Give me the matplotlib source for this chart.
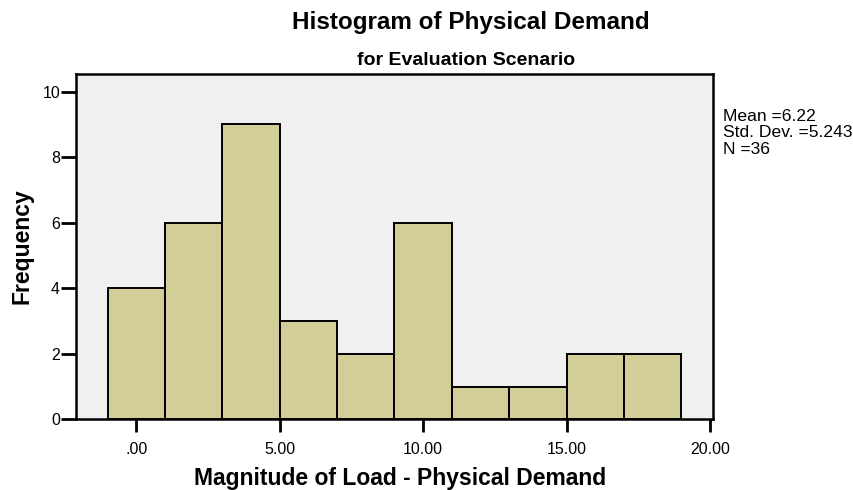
import matplotlib
matplotlib.use("Agg")
import matplotlib.pyplot as plt
import numpy as np

plt.rcParams.update({'font.family': ['Liberation Sans', 'DejaVu Sans']})

# histogram bins (width 2) and their frequencies
bin_edges = [-1, 1, 3, 5, 7, 9, 11, 13, 15, 17, 19]
counts = [4, 6, 9, 3, 2, 6, 1, 1, 2, 2]

x_ticks = [0, 5, 10, 15, 20]
x_tick_labels = ['.00', '5.00', '10.00', '15.00', '20.00']
y_ticks = [0, 2, 4, 6, 8, 10]

stats_lines = ['Mean =6.22', 'Std. Dev. =5.243', 'N =36']

BAR_COLOR = '#D3CE97'
PANEL_COLOR = '#F0F0F0'

fig = plt.figure(figsize=(8.54, 4.90), dpi=100)
ax = fig.add_axes([76 / 854, 1 - 419.3 / 490, (713 - 76) / 854, (419.3 - 74.3) / 490])
ax.set_facecolor(PANEL_COLOR)

widths = np.diff(bin_edges)
ax.bar(bin_edges[:-1], counts, width=widths, align='edge',
       color=BAR_COLOR, edgecolor='black', linewidth=1.4, zorder=2)

ax.set_xlim(-2.1, 20.1)
ax.set_ylim(0, 10.53)
ax.set_xticks(x_ticks)
ax.set_xticklabels(x_tick_labels)
ax.set_yticks(y_ticks)

for s in ax.spines.values():
    s.set_linewidth(1.8)
ax.tick_params(axis='x', length=9, width=2, pad=7, labelsize=11.5)
ax.tick_params(axis='y', length=11, width=2, pad=0.5, labelsize=11.5)

# titles and axis labels
fig.text(471 / 854, 1 - 28.5 / 490, 'Histogram of Physical Demand',
         ha='center', va='baseline', fontsize=17.5, fontweight='bold')
fig.text(466 / 854, 1 - 65 / 490, 'for Evaluation Scenario',
         ha='center', va='baseline', fontsize=14, fontweight='bold')
fig.text(400 / 854, 1 - 485 / 490, 'Magnitude of Load - Physical Demand',
         ha='center', va='baseline', fontsize=16.5, fontweight='bold')
fig.text(22 / 854, 1 - 246 / 490, 'Frequency', rotation=90,
         ha='center', va='center', fontsize=16.5, fontweight='bold')

# summary statistics beside the panel
for i, line in enumerate(stats_lines):
    fig.text(723 / 854, 1 - (120.7 + i * 16.7) / 490, line,
             ha='left', va='baseline', fontsize=12.6)

fig.savefig('out.png', dpi=100)
